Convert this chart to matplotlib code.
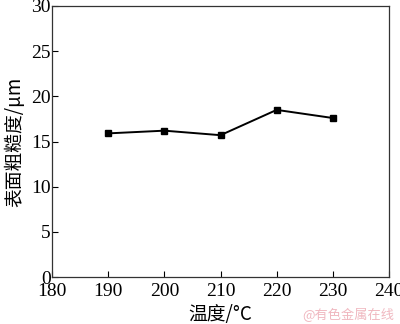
import matplotlib
matplotlib.use("Agg")
import matplotlib.pyplot as plt

temperature = [190, 200, 210, 220, 230]
roughness = [15.9, 16.2, 15.7, 18.5, 17.6]

plt.rcParams['font.family'] = ['Liberation Serif', 'Noto Sans CJK SC']
plt.rcParams['mathtext.fontset'] = 'stix'

fig = plt.figure(figsize=(4.0, 3.24), dpi=100)
ax = fig.add_axes([0.13, 0.145, 0.8425, 0.8365])
ax.plot(temperature, roughness, color='black', linewidth=1.4,
        marker='s', markersize=5)

ax.set_xlim(180, 240)
ax.set_ylim(0, 30)
ax.set_xticks(range(180, 241, 10))
ax.set_yticks(range(0, 31, 5))
ax.tick_params(direction='in', length=4, width=0.8, labelsize=14, pad=1)
ax.tick_params(axis='x', pad=4)
for s in ax.spines.values():
    s.set_linewidth(0.9)
    s.set_color('#333333')

ax.set_xlabel('温度/°C', fontsize=13.5, labelpad=3,
              family=['Noto Sans CJK SC', 'Liberation Serif'])
ax.set_ylabel('表面粗糙度/μm', fontsize=13.5, labelpad=4,
              family=['Noto Sans CJK SC', 'Liberation Serif'])

fig.text(0.985, 0.005, '@有色金属在线', ha='right', va='bottom',
         fontsize=9.5, color='#f0b8c0', family=['Noto Sans CJK SC'])

fig.savefig('out.png', dpi=100)
